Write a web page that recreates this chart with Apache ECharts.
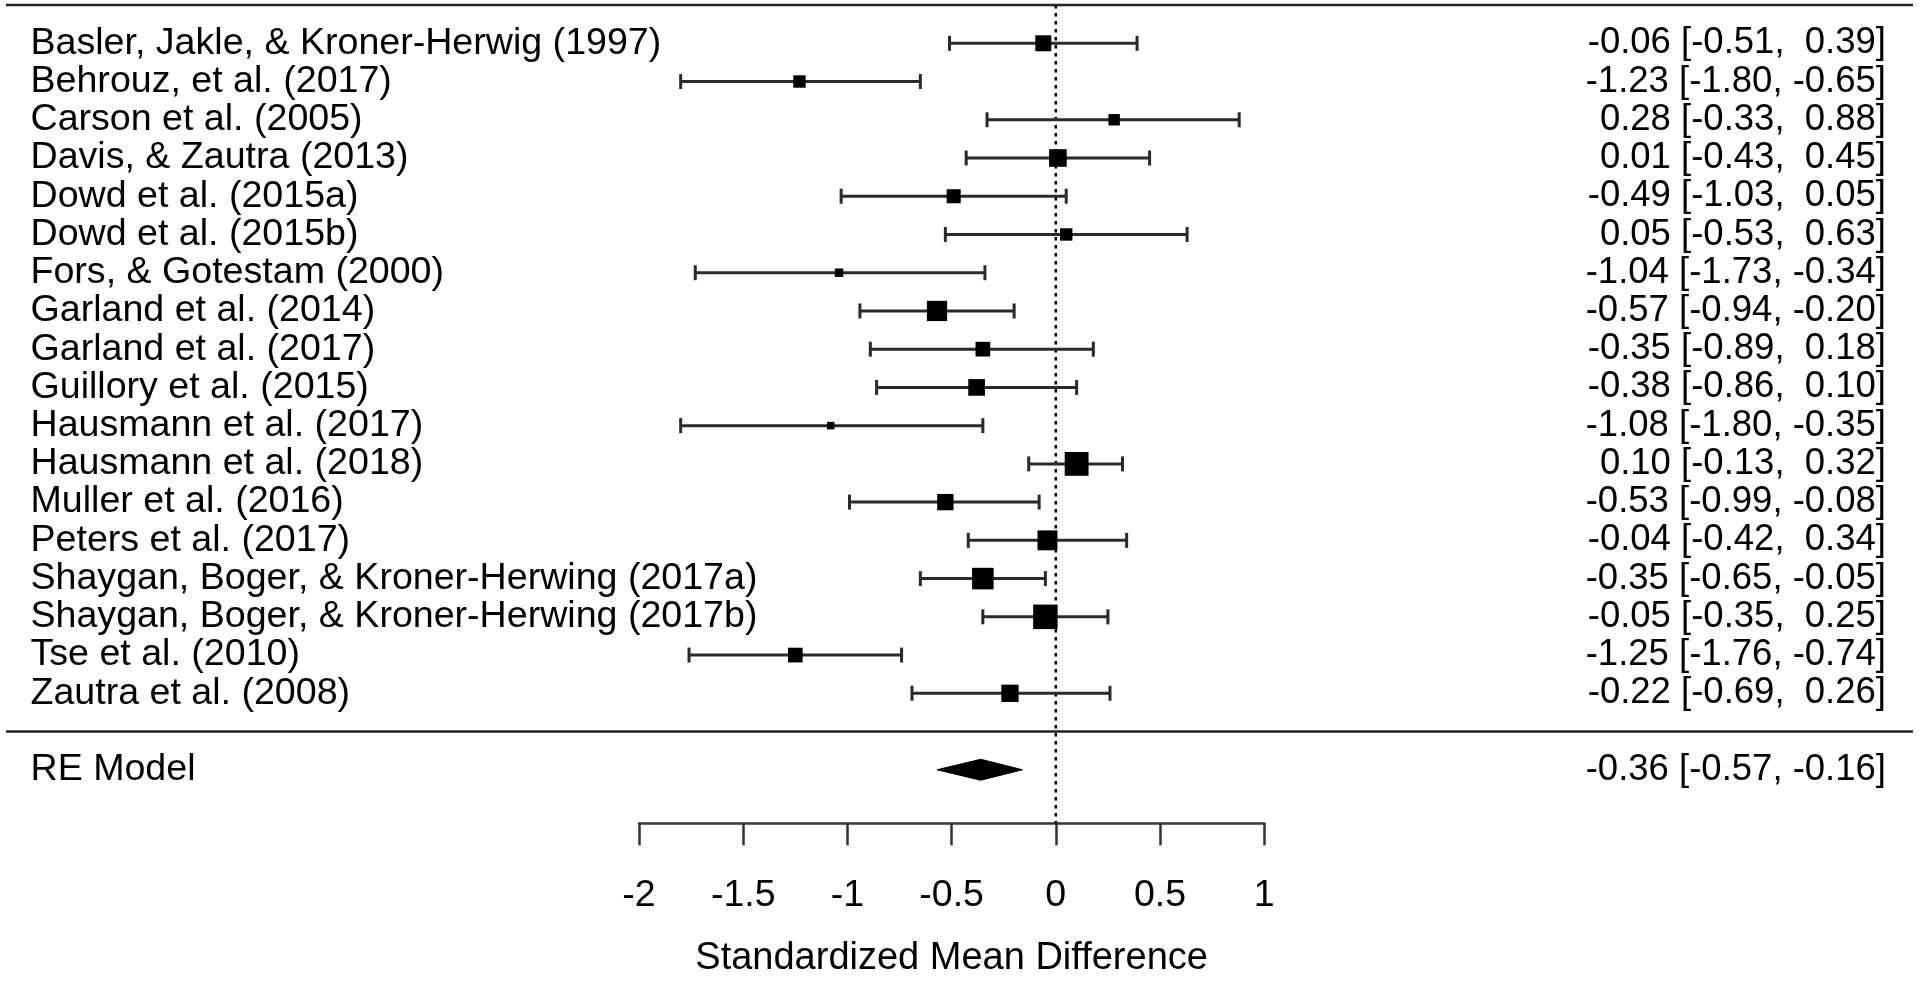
<!DOCTYPE html>
<html><head><meta charset="utf-8">
<script src="https://cdn.jsdelivr.net/npm/echarts@6/dist/echarts.min.js"></script>
<style>html,body{margin:0;padding:0;background:#fff}#c{width:1920px;height:981px}</style>
</head><body><div id="c"></div>
<script>
// ---- data ----
const studies = [
  'Basler, Jakle, & Kroner-Herwig (1997)',
  'Behrouz, et al. (2017)',
  'Carson et al. (2005)',
  'Davis, & Zautra (2013)',
  'Dowd et al. (2015a)',
  'Dowd et al. (2015b)',
  'Fors, & Gotestam (2000)',
  'Garland et al. (2014)',
  'Garland et al. (2017)',
  'Guillory et al. (2015)',
  'Hausmann et al. (2017)',
  'Hausmann et al. (2018)',
  'Muller et al. (2016)',
  'Peters et al. (2017)',
  'Shaygan, Boger, & Kroner-Herwing (2017a)',
  'Shaygan, Boger, & Kroner-Herwing (2017b)',
  'Tse et al. (2010)',
  'Zautra et al. (2008)'
];
const estimates = [-0.06, -1.23, 0.28, 0.01, -0.49, 0.05, -1.04, -0.57, -0.35, -0.38, -1.08, 0.10, -0.53, -0.04, -0.35, -0.05, -1.25, -0.22];
const lowerCI   = [-0.51, -1.80, -0.33, -0.43, -1.03, -0.53, -1.73, -0.94, -0.89, -0.86, -1.80, -0.13, -0.99, -0.42, -0.65, -0.35, -1.76, -0.69];
const upperCI   = [ 0.39, -0.65,  0.88,  0.45,  0.05,  0.63, -0.34, -0.20,  0.18,  0.10, -0.35,  0.32, -0.08,  0.34, -0.05,  0.25, -0.74,  0.26];
// study weights (%)
const weights   = [5.6, 4.5, 4.2, 6.1, 5.0, 4.5, 3.3, 6.9, 5.2, 5.8, 3.0, 8.0, 5.7, 6.8, 7.3, 8.2, 5.2, 6.0];
const summaryLabel = 'RE Model';
const summaryEst = -0.36, summaryLo = -0.57, summaryHi = -0.16;
const refValue = 0;
const xTickMin = -2, xTickMax = 1, xTickStep = 0.5;
const axisTitle = 'Standardized Mean Difference';

// ---- derived ----
const k = studies.length;
const rows = studies.map((s, i) => k - i);          // 18 .. 1
const summaryRow = -1;
const ruleRows = [k + 1, 0];
const wMin = Math.min(...weights), wMax = Math.max(...weights);
const sizeOf = w => 7.5 + (w - wMin) / (wMax - wMin) * 17;
const fmt = v => { const s = v.toFixed(2); return s.length < 5 ? ' ' + s : s; };
const annot = (e, l, h) => fmt(e) + ' [' + fmt(l) + ', ' + fmt(h) + ']';
const labelFor = v => {
  v = Math.round(v);
  if (v >= 1 && v <= k) return studies[k - v];
  if (v === summaryRow) return summaryLabel;
  return '';
};
const annotFor = v => {
  v = Math.round(v);
  if (v >= 1 && v <= k) { const i = k - v; return annot(estimates[i], lowerCI[i], upperCI[i]); }
  if (v === summaryRow) return annot(summaryEst, summaryLo, summaryHi);
  return '';
};

const FONT = 'Liberation Sans, Arial, Helvetica, sans-serif';
const INK = '#2a2a2a';

const chart = echarts.init(document.getElementById('c'), null, {renderer: 'canvas'});
chart.setOption({
  animation: false,
  backgroundColor: '#fff',
  textStyle: {fontFamily: FONT},
  grid: [
    {left: 6, right: 7, top: 5.06, bottom: 134.8, outerBoundsMode: 'none', containLabel: false},
    {left: 639, right: 655.8, top: 5.06, bottom: 157.7, outerBoundsMode: 'none', containLabel: false}
  ],
  xAxis: [
    {gridIndex: 0, type: 'value', min: 0, max: 1, show: false},
    {gridIndex: 1, type: 'value', min: xTickMin, max: xTickMax, interval: xTickStep,
     axisLine: {show: true, onZero: false, lineStyle: {color: '#333', width: 2.5}},
     axisTick: {show: true, length: 22, lineStyle: {color: '#333', width: 2.5}},
     splitLine: {show: false},
     axisLabel: {show: true, color: '#000', fontSize: 37.5, fontFamily: FONT, margin: 53,
                 formatter: v => String(v)},
     name: axisTitle, nameLocation: 'middle', nameGap: 116,
     nameTextStyle: {color: '#000', fontSize: 38, fontFamily: FONT}}
  ],
  yAxis: [
    {gridIndex: 0, type: 'value', min: -3, max: k + 1, interval: 1, position: 'left',
     axisLine: {show: false}, axisTick: {show: false}, splitLine: {show: false},
     axisLabel: {show: true, inside: true, align: 'left', margin: 24.5, color: '#000',
                 fontSize: 37.6, fontFamily: FONT, formatter: labelFor}},
    {gridIndex: 0, type: 'value', min: -3, max: k + 1, interval: 1, position: 'right',
     axisLine: {show: false}, axisTick: {show: false}, splitLine: {show: false},
     axisLabel: {show: true, inside: true, align: 'right', margin: 27, color: '#000',
                 fontSize: 36.5, fontFamily: FONT, formatter: annotFor}},
    {gridIndex: 1, type: 'value', min: -2.4, max: k + 1, show: false}
  ],
  series: [
    { // horizontal rules (top and above summary)
      type: 'custom', xAxisIndex: 0, yAxisIndex: 0, silent: true, clip: false,
      data: ruleRows.map(r => [0, r]),
      renderItem: (params, api) => {
        const cs = params.coordSys;
        const p = api.coord([0, api.value(1)]);
        return {type: 'line', shape: {x1: cs.x, y1: p[1], x2: cs.x + cs.width, y2: p[1]},
                style: {stroke: '#222', lineWidth: 2.5}};
      }
    },
    { // reference (null effect) line
      type: 'custom', xAxisIndex: 1, yAxisIndex: 2, silent: true, clip: false,
      data: [[refValue, 0]],
      renderItem: (params, api) => {
        const cs = params.coordSys;
        const p = api.coord([api.value(0), 0]);
        return {type: 'line', shape: {x1: p[0], y1: cs.y, x2: p[0], y2: cs.y + cs.height},
                style: {stroke: '#000', lineWidth: 2.5, lineDash: [3.5, 4.5]}};
      }
    },
    { // study CIs and squares
      type: 'custom', xAxisIndex: 1, yAxisIndex: 2, silent: true, clip: false,
      data: studies.map((s, i) => [estimates[i], lowerCI[i], upperCI[i], rows[i], weights[i]]),
      encode: {x: [0, 1, 2], y: 3},
      renderItem: (params, api) => {
        const y = api.value(3);
        const c = api.coord([api.value(0), y]);
        const l = api.coord([api.value(1), y]);
        const h = api.coord([api.value(2), y]);
        const s = sizeOf(api.value(4));
        const st = {stroke: INK, lineWidth: 3};
        return {type: 'group', children: [
          {type: 'line', shape: {x1: l[0], y1: l[1], x2: h[0], y2: h[1]}, style: st},
          {type: 'line', shape: {x1: l[0], y1: l[1] - 7.5, x2: l[0], y2: l[1] + 7.5}, style: st},
          {type: 'line', shape: {x1: h[0], y1: h[1] - 7.5, x2: h[0], y2: h[1] + 7.5}, style: st},
          {type: 'rect', shape: {x: c[0] - s / 2, y: c[1] - s / 2, width: s, height: s}, style: {fill: '#000'}}
        ]};
      }
    },
    { // summary diamond
      type: 'custom', xAxisIndex: 1, yAxisIndex: 2, silent: true, clip: false,
      data: [[summaryEst, summaryLo, summaryHi, summaryRow]],
      encode: {x: [0, 1, 2], y: 3},
      renderItem: (params, api) => {
        const y = api.value(3);
        const c = api.coord([api.value(0), y]);
        const l = api.coord([api.value(1), y]);
        const h = api.coord([api.value(2), y]);
        const hh = 10.5;
        return {type: 'polygon', shape: {points: [[l[0], l[1]], [c[0], c[1] - hh], [h[0], h[1]], [c[0], c[1] + hh]]},
                style: {fill: '#000', stroke: '#000', lineWidth: 1}};
      }
    }
  ]
});
</script>
</body></html>
